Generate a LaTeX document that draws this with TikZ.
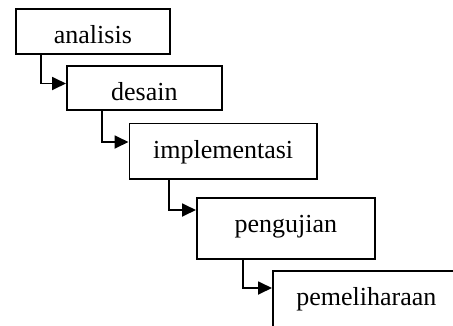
\documentclass[tikz,border=0pt]{standalone}
\usepackage{fontspec}
\setmainfont{Liberation Serif}
\usetikzlibrary{arrows.meta}
\begin{document}
\begin{tikzpicture}[x=1pt,y=-1pt,
  box/.style={draw, line width=1.8pt, inner sep=0pt, anchor=north west,
    font=\fontsize{26}{30}\selectfont, text depth=0pt},
  flow/.style={line width=1.8pt, -{Triangle[length=14pt,width=13pt]}}]
\useasboundingbox (0,0) rectangle (453,325);
\clip (0,0) rectangle (453,325);
\node[box, minimum width=154pt, minimum height=45pt, text height=25pt] (ana) at (15,8) {analisis};
\node[box, minimum width=155pt, minimum height=44pt, text height=26pt] (des) at (66,65) {desain};
\node[box, minimum width=187.5pt, minimum height=55.5pt, text height=14.5pt] (imp) at (128.5,122.5) {implementasi};
\node[box, minimum width=178pt, minimum height=61pt, text height=9pt] (peng) at (196,197) {pengujian};
\node[box, minimum width=187pt, minimum height=61pt, text height=9pt] (peme) at (272,270) {pemeliharaan};
\draw[flow] ([xshift=26pt]ana.south west) |- ([yshift=-18.5pt]des.north west);
\draw[flow] ([xshift=36pt]des.south west) |- ([yshift=-19.5pt]imp.north west);
\draw[flow] ([xshift=40.5pt]imp.south west) |- ([yshift=-13pt]peng.north west);
\draw[flow] ([xshift=47pt]peng.south west) |- ([yshift=-18pt]peme.north west);
\end{tikzpicture}
\end{document}
